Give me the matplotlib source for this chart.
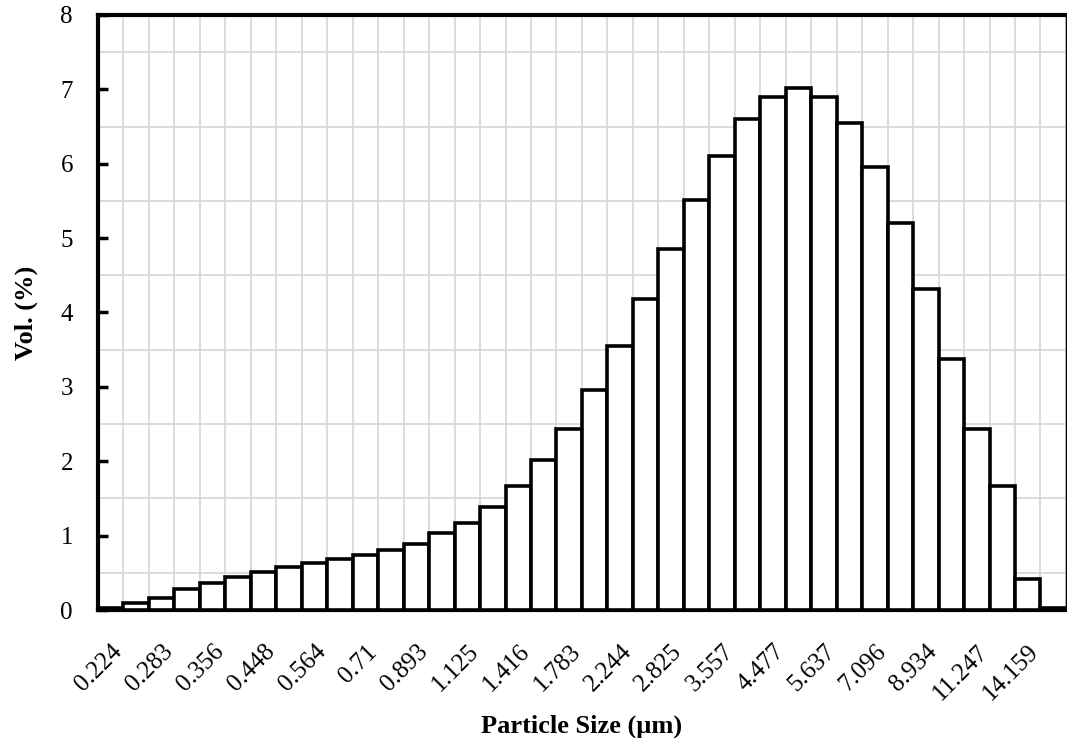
import matplotlib
matplotlib.use("Agg")
import matplotlib.pyplot as plt
import numpy as np

# Data
tick_labels = ["0.224", "0.283", "0.356", "0.448", "0.564", "0.71", "0.893",
               "1.125", "1.416", "1.783", "2.244", "2.825", "3.557", "4.477",
               "5.637", "7.096", "8.934", "11.247", "14.159"]
volume = [0.03, 0.10, 0.16, 0.28, 0.36, 0.44, 0.51, 0.58, 0.63, 0.69,
          0.735, 0.81, 0.89, 1.03, 1.17, 1.38, 1.67, 2.02, 2.44, 2.96,
          3.55, 4.18, 4.85, 5.51, 6.11, 6.60, 6.90, 7.02, 6.90, 6.55,
          5.95, 5.20, 4.31, 3.37, 2.44, 1.67, 0.42, 0.03]

plt.rcParams['font.family'] = ['Liberation Serif', 'DejaVu Serif']

fig = plt.figure(figsize=(10.67, 7.46), dpi=100)
ax = fig.add_axes([0.0918, 0.1823, 0.9072, 0.7976])

n = len(volume)
x = np.arange(n)
ax.bar(x, volume, width=1.0, color='white', edgecolor='black', linewidth=2.6, zorder=3)

ax.set_xlim(-0.5, n - 0.5)
ax.set_ylim(0, 8)

# grid
ax.set_xticks(np.arange(-0.5, n, 1.0), minor=True)
ax.set_yticks(np.arange(0, 8.01, 0.5), minor=True)
ax.grid(which='minor', color='#d9d9d9', linewidth=1.3, zorder=0)
ax.set_axisbelow(True)

ax.set_xticks(x[::2][:len(tick_labels)])
ax.set_xticklabels(tick_labels, rotation=45, ha='right', rotation_mode='anchor', fontsize=18)
ax.set_yticks(np.arange(0, 9, 1))
ax.set_yticklabels([str(i) for i in range(9)], fontsize=18)

ax.tick_params(axis='x', which='both', length=0, pad=22)
ax.tick_params(axis='x', which='minor', length=0)
ax.tick_params(axis='y', which='major', direction='in', length=7, width=2.5, pad=18)
ax.tick_params(axis='y', which='minor', length=0)

for s in ['left', 'top', 'bottom']:
    ax.spines[s].set_linewidth(3)
ax.spines['right'].set_linewidth(1)

ax.set_xlabel('Particle Size (µm)', fontsize=19, fontweight='bold', labelpad=7)
ax.set_ylabel('Vol. (%)', fontsize=19, fontweight='bold', labelpad=16)

fig.savefig('out.png', dpi=100)
